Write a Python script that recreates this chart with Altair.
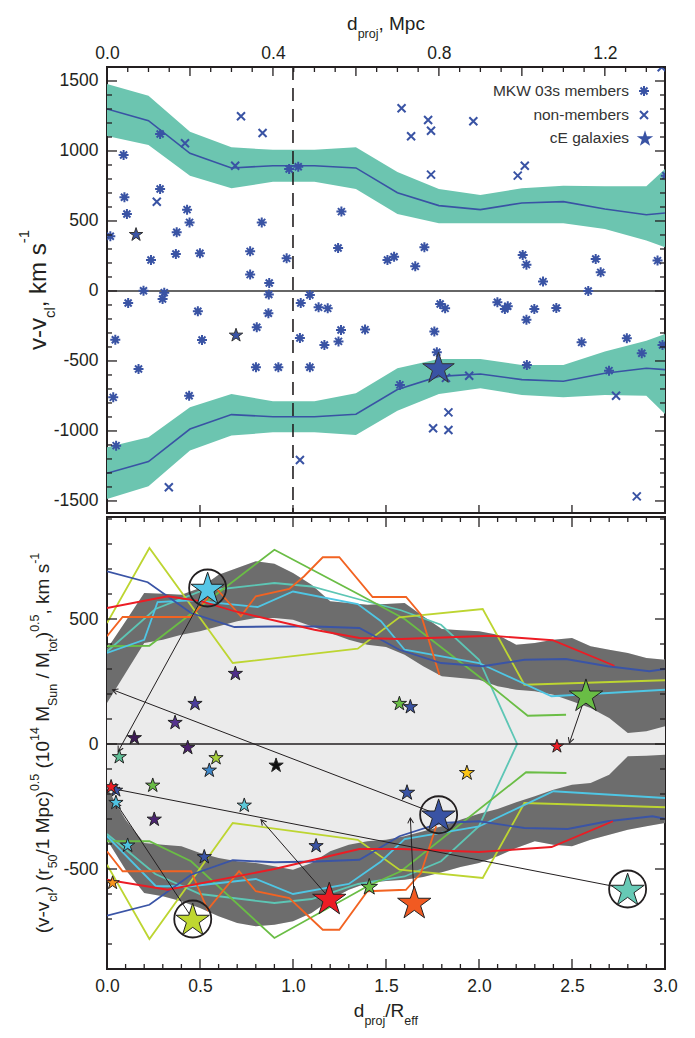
import math
import altair as alt
import pandas as pd

FONT = "Liberation Sans"
INK = "#231f20"
LABEL_SIZE = 17.5

W, H_TOP, H_BOT = 558, 446, 452
R_EFF_MPC = 0.4483          # d_proj/R_eff = 1 in Mpc (dashed line)
TOP_XDOM = [0, 1.345]
TOP_YDOM = [-1586, 1600]
BOT_XDOM = [0, 3.0]
BOT_YDOM = [-900, 908]

# ---------------- top panel data ----------------
band_mpc = [0.0, 0.1, 0.2, 0.3, 0.4, 0.5, 0.6, 0.7, 0.8, 0.9, 1.0, 1.1, 1.2, 1.3, 1.345]
up_band_hi = [1479, 1395, 1138, 1026, 1009, 1009, 1026, 850, 729, 686, 733, 752, 748, 748, 871]
up_band_lo = [1107, 1043, 824, 733, 781, 781, 729, 550, 483, 483, 483, 483, 443, 360, 312]
up_band_mid = [1300, 1217, 983, 879, 895, 895, 879, 702, 610, 581, 629, 638, 586, 545, 557]
lo_band_hi = [-1117, -1045, -831, -736, -788, -788, -731, -552, -486, -486, -529, -529, -433, -355, -307]
lo_band_lo = [-1486, -1395, -1140, -1033, -1010, -1010, -1029, -855, -736, -695, -743, -760, -743, -748, -879]
lo_band_mid = [-1302, -1219, -986, -883, -898, -898, -881, -704, -610, -593, -633, -645, -588, -552, -562]

mem_mpc = [0.040, 0.128, 0.042, 0.128, 0.048, 0.193, 0.199, 0.373, 0.565, 0.008, 0.168, 0.106, 0.166,
           0.224, 0.345, 0.433, 0.557, 0.345, 0.391, 0.390, 0.439, 0.461, 0.088, 0.138, 0.134, 0.676,
           0.692, 0.489, 0.743, 0.765, 1.002, 1.011, 1.051, 1.178, 1.190, 1.160, 1.327, 1.347, 0.941,
           0.051, 0.389, 0.219, 0.467, 0.510, 0.532, 0.361, 0.564, 0.622, 0.465, 0.524, 0.558, 0.020,
           0.229, 0.076, 0.359, 0.413, 0.489, 0.015, 0.198, 0.022, 0.706, 0.803, 0.815, 0.959, 0.966,
           1.030, 1.083, 1.011, 0.789, 0.795, 1.144, 1.253, 1.289, 1.339, 1.012, 1.210]
mem_v = [971, 1121, 669, 729, 550, 581, 490, 490, 567, 391, 419, 221, 264,
         269, 283, 233, 307, 117, 57, -25, 871, 888, 2, -12, -57, 221,
         245, -29, 176, 312, 257, 188, 67, 229, 133, 0, 217, 824, -81,
         -86, -159, -145, -86, -117, -124, -259, -279, -276, -336, -386, -360, -348,
         -350, -557, -545, -545, -545, -760, -748, -1105, -671, -93, -124, -129, -109,
         -129, -121, -205, -290, -438, -367, -338, -445, -386, -529, -569]

non_mpc = [0.323, 0.375, 0.188, 0.309, 0.120, 0.710, 0.733, 0.774, 0.781, 0.883, 0.781, 0.990,
           1.007, 1.337, 0.149, 0.465, 0.817, 0.873, 0.823, 0.786, 0.823, 1.227, 1.277]
non_v = [1248, 1129, 1055, 895, 638, 1305, 1105, 1221, 1145, 1212, 831, 824,
         895, 1598, -1402, -1207, -621, -605, -867, -981, -993, -748, -1467]

ce_mpc = [0.070, 0.311, 0.799]
ce_v = [407, -312, -545]
ce_size = [200, 200, 1100]

legend_labels = ["MKW 03s members", "non-members", "cE galaxies"]

# ---------------- bottom panel data ----------------
grid_d = [0.0, 0.1, 0.2, 0.3, 0.4, 0.5, 0.6, 0.7, 0.8, 0.9, 1.0, 1.1, 1.2, 1.3, 1.4, 1.5,
          1.6, 1.7, 1.8, 1.9, 2.0, 2.1, 2.2, 2.3, 2.4, 2.5, 2.6, 2.7, 2.8, 2.9, 3.0]
dark_up_top = [380, 491, 604, 601, 597, 624, 677, 704, 731, 721, 684, 637, 571, 564, 557, 560,
               564, 511, 460, 455, 451, 437, 397, 404, 417, 424, 391, 377, 364, 344, 337]
dark_up_bot = [164, 284, 404, 417, 437, 451, 471, 491, 504, 504, 497, 471, 444, 417, 397, 388,
               357, 311, 271, 264, 257, 231, 217, 211, 197, 171, 144, 104, 44, 51, 71]
dark_lo_top = [-176, -303, -396, -403, -409, -436, -456, -469, -476, -489, -503, -476, -429, -403, -389, -383,
               -369, -349, -329, -303, -279, -260, -233, -209, -183, -163, -156, -123, -49, -47, -43]
dark_lo_bot = [-383, -503, -596, -609, -629, -656, -689, -716, -729, -723, -709, -676, -623, -583, -556, -548,
               -543, -532, -513, -492, -476, -449, -416, -389, -403, -409, -383, -363, -343, -329, -316]

# caustic profiles of individual groups (upper and lower branch)
blue_up_d = [0, 0.219, 0.452, 0.685, 0.9, 1.12, 1.357, 1.572, 1.796, 2.02, 2.244, 2.467, 2.692, 2.916, 3.0]
blue_up_v = [691, 647, 524, 468, 470, 470, 464, 377, 324, 311, 337, 340, 311, 291, 300]
blue_lo_d = [0, 0.228, 0.452, 0.676, 0.9, 1.12, 1.357, 1.572, 1.796, 2.0, 2.244, 2.477, 2.692, 2.933, 3.0]
blue_lo_v = [-687, -643, -523, -465, -473, -470, -463, -369, -316, -309, -336, -340, -309, -289, -299]
yg_up_d = [0, 0.228, 0.676, 1.348, 1.572, 2.02, 2.244, 3.0]
yg_up_v = [484, 784, 324, 381, 507, 540, 237, 255]
yg_lo_d = [0, 0.228, 0.676, 1.348, 1.572, 2.02, 2.244, 3.0]
yg_lo_v = [-483, -780, -316, -383, -503, -536, -236, -253]
green_up_d = [0, 0.228, 0.9, 1.35, 1.6, 2.0, 2.262, 2.468]
green_up_v = [391, 393, 777, 600, 500, 270, 113, 117]
green_lo_d = [0, 0.228, 0.452, 0.9, 1.4, 1.58, 2.253, 2.47]
green_lo_v = [-389, -389, -469, -776, -569, -509, -113, -116]
orange_up_d = [0, 0.084, 0.452, 0.586, 0.72, 0.8, 0.98, 1.06, 1.16, 1.249, 1.428, 1.608, 1.688, 1.787]
orange_up_v = [431, 508, 508, 624, 511, 591, 620, 671, 747, 747, 588, 588, 517, 277]
orange_lo_d = [0, 0.084, 0.452, 0.541, 0.71, 0.8, 0.98, 1.16, 1.249, 1.40, 1.607, 1.688, 1.77]
orange_lo_v = [-429, -509, -509, -663, -509, -589, -616, -743, -743, -589, -583, -516, -329]
red_up_d = [0, 0.326, 0.505, 0.685, 1.115, 1.357, 1.581, 2.064, 2.396, 2.728]
red_up_v = [544, 591, 571, 531, 457, 424, 420, 433, 415, 313]
red_lo_d = [0, 0.326, 0.9, 1.357, 1.581, 2.0, 2.39, 2.72]
red_lo_v = [-543, -583, -500, -420, -420, -432, -412, -309]
cyan_up_d = [0, 0.2, 0.272, 0.452, 0.81, 1.0, 1.348, 1.473, 1.6, 2.0, 2.39, 3.0]
cyan_up_v = [364, 417, 568, 575, 548, 610, 560, 491, 377, 324, 191, 217]
cyan_lo_d = [0, 0.263, 0.45, 0.8, 1.0, 1.3, 1.473, 1.6, 2.0, 2.4, 3.0]
cyan_lo_v = [-369, -569, -569, -540, -600, -560, -470, -380, -330, -189, -216]
teal_d = [0, 0.26, 0.5, 0.9, 1.1, 1.348, 1.58, 1.796, 2.0, 2.205, 2.0, 1.796, 1.6, 1.35, 1.1, 0.9, 0.5, 0.26, 0]
teal_v = [370, 540, 610, 644, 630, 580, 535, 477, 337, 0, -329, -469, -530, -560, -620, -636, -600, -520, -360]

C_BLUE, C_RED, C_ORANGE = "#3a54a6", "#ec1c24", "#f26322"
C_YG, C_GREEN, C_CYAN, C_TEAL = "#bdd531", "#6abd45", "#4fc6e4", "#5dc6b5"

star_d = [0.541, 0.69, 0.473, 0.366, 0.147, 0.066, 0.434, 0.586, 0.55, 0.909, 0.246, 0.048, 0.022,
          0.048, 0.738, 0.254, 0.111, 0.523, 1.124, 0.030, 0.461, 1.195, 1.41, 1.652, 1.783, 1.613,
          1.935, 2.419, 2.799, 1.572, 1.631, 2.575]
star_v = [624, 284, 164, 88, 27, -49, -12, -53, -103, -83, -163, -183, -169,
          -232, -243, -299, -403, -449, -405, -553, -700, -616, -569, -632, -283, -192,
          -113, -7, -580, 164, 151, 197]
star_col = ["#56c6e6", "#4f2e8a", "#4a3c9c", "#55338f", "#3c1a55", "#5ebf96", "#4b1f6e", "#a6cf3a",
            "#3d87c9", "#111111", "#69bd45", "#3953a4", "#ec1c24", "#4fc3e2", "#5cc8d8", "#4b2372",
            "#4fc3e0", "#3953a4", "#3953a4", "#f7941d", "#bfd730", "#ec1c24", "#69bd45", "#f15a22",
            "#3953a4", "#3953a4", "#fcc515", "#ec1c24", "#66c9b5", "#69bd45", "#3953a4", "#69bd45"]
star_size = [1225, 225, 225, 225, 225, 225, 225, 225, 225, 225, 225, 200, 225,
             225, 225, 225, 225, 225, 225, 200, 1225, 1225, 300, 1225, 1225, 260,
             250, 200, 1225, 225, 225, 1225]

ring_d = [0.541, 0.461, 1.783, 2.799]
ring_v = [624, -700, -283, -580]

arr_from_d = [0.541, 1.783, 2.799, 1.195, 1.652, 2.575, 0.461]
arr_from_v = [624, -283, -580, -616, -632, 197, -700]
arr_to_d = [0.06, 0.03, 0.04, 0.828, 1.631, 2.486, 0.048]
arr_to_v = [-30, 217, -180, -303, -296, 4, -236]

# ---------------- helpers ----------------
ONE = pd.DataFrame({"k": [0]})
AW = {' ': 278, '(': 333, ')': 333, ',': 278, '-': 333, '.': 278, '/': 278, 'M': 833, 'R': 722,
      'S': 667, 'c': 500, 'd': 556, 'e': 556, 'f': 278, 'j': 222, 'k': 500, 'l': 222, 'm': 833,
      'n': 556, 'o': 556, 'p': 556, 'r': 333, 's': 500, 't': 278, 'u': 556, 'v': 500}


def tw(s, size):
    return sum(AW.get(ch, 556) for ch in s) * size / 1000.0


def txt(s, x, y, size, angle=0, align="left", baseline="alphabetic", color=INK):
    return alt.Chart(ONE).mark_text(fontSize=size, angle=angle, align=align, baseline=baseline,
                                    font=FONT, color=color).encode(
        x=alt.value(x), y=alt.value(y), text=alt.value(s))


def rich(pieces, cx, cy, vertical, main=19, small=12.5, sub=8, sup=-10):
    sizes = [main if k == "n" else small for _, k in pieces]
    total = sum(tw(t, s) for (t, _), s in zip(pieces, sizes))
    out, off = [], 0.0
    for (t, k), s in zip(pieces, sizes):
        shift = 0 if k == "n" else (sub if k == "sub" else sup)
        lead = len(t) - len(t.lstrip(" "))
        o = off + tw(" " * lead, s)
        body = t.strip(" ")
        if vertical:
            out.append(txt(body, cx + shift, cy + total / 2 - o, s, angle=270))
        else:
            out.append(txt(body, cx - total / 2 + o, cy + shift, s))
        off += tw(t, s)
    return out


def star_path():
    pts = []
    for i in range(10):
        a = math.radians(-90 + 36 * i)
        r = 1.0 if i % 2 == 0 else 0.382
        pts.append((r * math.cos(a), r * math.sin(a) + 0.095))
    return "M" + "L".join(f"{x:.3f},{y:.3f}" for x, y in pts) + "Z"


STAR = star_path()
ASTER = "M-1,0L1,0M0,-1L0,1M-0.7,-0.7L0.7,0.7M-0.7,0.7L0.7,-0.7"
XMARK = "M-0.8,-0.8L0.8,0.8M-0.8,0.8L0.8,-0.8"
VHEAD = "M-0.55,1L0,0L0.55,1"

neg_label = "datum.value < 0 ? '-' + format(-datum.value, 'd') : format(datum.value, 'd')"

# scales and axes (the same axis object is given to every layer that shares a scale)
xs_t = alt.Scale(domain=TOP_XDOM, nice=False, zero=False)
ys_t = alt.Scale(domain=TOP_YDOM, nice=False, zero=False)
xs_b = alt.Scale(domain=BOT_XDOM, nice=False, zero=False)
ys_b = alt.Scale(domain=BOT_YDOM, nice=False, zero=False)
AX_TX = alt.Axis(orient="top", values=[0, 0.4, 0.8, 1.2], format=".1f", title=None,
                 labelPadding=5, labelFlush=False)
AX_TY = alt.Axis(orient="left", values=list(range(-1500, 1501, 500)), title=None,
                 labelExpr=neg_label, labelPadding=9, labelFlush=False)
AX_BX = alt.Axis(orient="bottom", values=[0, 0.5, 1, 1.5, 2, 2.5, 3], format=".1f", title=None,
                 labelPadding=8, labelFlush=False)
AX_BY = alt.Axis(orient="left", values=[-500, 0, 500], title=None, labelExpr=neg_label,
                 labelPadding=9, labelFlush=False)


def TX(f):
    return alt.X(f, scale=xs_t, axis=AX_TX)


def TY(f):
    return alt.Y(f, scale=ys_t, axis=AX_TY)


def BX(f):
    return alt.X(f, scale=xs_b, axis=AX_BX)


def BY(f):
    return alt.Y(f, scale=ys_b, axis=AX_BY)


def yticks(vals, Yenc, length, side):
    df = pd.DataFrame({"t": vals})
    x0, x1 = (0, length) if side == "left" else (W - length, W)
    return alt.Chart(df).mark_rule(color=INK, strokeWidth=1.3).encode(
        y=Yenc("t:Q"), x=alt.value(x0), x2=alt.value(x1))


def xticks(vals, Xenc, length, side, h):
    df = pd.DataFrame({"t": vals})
    y0, y1 = (0, length) if side == "top" else (h - length, h)
    return alt.Chart(df).mark_rule(color=INK, strokeWidth=1.3).encode(
        x=Xenc("t:Q"), y=alt.value(y0), y2=alt.value(y1))


# ---------------- top panel ----------------
band_df = pd.DataFrame({"mpc": band_mpc, "uh": up_band_hi, "ul": up_band_lo, "um": up_band_mid,
                        "lh": lo_band_hi, "ll": lo_band_lo, "lm": lo_band_mid})

top_band_u = alt.Chart(band_df).mark_area(color="#6cc5b0", clip=True).encode(
    x=TX("mpc:Q"), y=TY("uh:Q"), y2="ul:Q")
top_band_l = alt.Chart(band_df).mark_area(color="#6cc5b0", clip=True).encode(
    x=TX("mpc:Q"), y=TY("lh:Q"), y2="ll:Q")
top_mid_u = alt.Chart(band_df).mark_line(color="#3953a4", strokeWidth=1.6, clip=True).encode(
    x=TX("mpc:Q"), y=TY("um:Q"))
top_mid_l = alt.Chart(band_df).mark_line(color="#3953a4", strokeWidth=1.6, clip=True).encode(
    x=TX("mpc:Q"), y=TY("lm:Q"))

dash = alt.Chart(pd.DataFrame({"x": [R_EFF_MPC]})).mark_rule(
    color=INK, strokeWidth=1.6, strokeDash=[13, 8]).encode(x=TX("x:Q"))
zero_t = alt.Chart(pd.DataFrame({"y": [0]})).mark_rule(color="#333333", strokeWidth=1.6).encode(
    y=TY("y:Q"))

mem = alt.Chart(pd.DataFrame({"x": mem_mpc, "v": mem_v})).mark_point(
    shape=ASTER, filled=False, color="#3953a4", strokeWidth=2, size=100, opacity=1, clip=True).encode(
    x=TX("x:Q"), y=TY("v:Q"))
non = alt.Chart(pd.DataFrame({"x": non_mpc, "v": non_v})).mark_point(
    shape=XMARK, filled=False, color="#3953a4", strokeWidth=2, size=100, opacity=1, clip=True).encode(
    x=TX("x:Q"), y=TY("v:Q"))
ce = alt.Chart(pd.DataFrame({"x": ce_mpc, "v": ce_v, "s": ce_size})).mark_point(
    shape=STAR, filled=True, color="#3953a4", stroke="#333333", strokeWidth=1, opacity=1, clip=True).encode(
    x=TX("x:Q"), y=TY("v:Q"), size=alt.Size("s:Q", scale=None))

leg_y = [24, 48, 71]
legend_layers = []
for lab, yy in zip(legend_labels, leg_y):
    legend_layers.append(txt(lab, 522, yy, 15.5, align="right", baseline="middle", color="#333333"))
legend_layers.append(alt.Chart(ONE).mark_point(shape=ASTER, filled=False, color="#3953a4", strokeWidth=2,
                                               size=100, opacity=1).encode(x=alt.value(537), y=alt.value(leg_y[0])))
legend_layers.append(alt.Chart(ONE).mark_point(shape=XMARK, filled=False, color="#3953a4", strokeWidth=2,
                                               size=100, opacity=1).encode(x=alt.value(537), y=alt.value(leg_y[1])))
legend_layers.append(alt.Chart(ONE).mark_point(shape=STAR, filled=True, color="#3953a4", strokeWidth=0,
                                               size=300, opacity=1).encode(x=alt.value(538), y=alt.value(leg_y[2])))

t_minor_y = [v for v in range(-1500, 1601, 100) if v % 500]
t_major_y = list(range(-1500, 1501, 500))
t_minor_x = [round(0.05 * i, 2) for i in range(1, 27) if i % 4]
t_major_x = [round(0.2 * i, 2) for i in range(1, 7)]
t_bot_x = [0.5 * k * R_EFF_MPC for k in range(1, 6)]
top_ticks = [yticks(t_minor_y, TY, 5, "left"), yticks(t_major_y, TY, 10, "left"),
             yticks(t_minor_y, TY, 5, "right"), yticks(t_major_y, TY, 10, "right"),
             xticks(t_minor_x, TX, 5, "top", H_TOP), xticks(t_major_x, TX, 9, "top", H_TOP),
             xticks(t_bot_x, TX, 8, "bottom", H_TOP)]

top_titles = (rich([("d", "n"), ("proj", "sub"), (", Mpc", "n")], W / 2, -37, False) +
              rich([("v-v", "n"), ("cl", "sub"), (", km s", "n"), ("-1", "sup")], -61, H_TOP / 2, True,
                   main=24, small=15, sub=9, sup=-17))

top = alt.layer(top_band_u, top_band_l, top_mid_u, top_mid_l, dash, zero_t, mem, non, ce,
                *legend_layers, *top_ticks, *top_titles).properties(width=W, height=H_TOP)

# ---------------- bottom panel ----------------
dark_df = pd.DataFrame({"d": grid_d, "ut": dark_up_top, "ub": dark_up_bot, "lt": dark_lo_top, "lb": dark_lo_bot})
cloud = alt.Chart(dark_df).mark_area(color="#ebebeb", clip=True).encode(
    x=BX("d:Q"), y=BY("ut:Q"), y2="lb:Q")
dark_u = alt.Chart(dark_df).mark_area(color="#6d6d6d", clip=True).encode(
    x=BX("d:Q"), y=BY("ut:Q"), y2="ub:Q")
dark_l = alt.Chart(dark_df).mark_area(color="#6d6d6d", clip=True).encode(
    x=BX("d:Q"), y=BY("lt:Q"), y2="lb:Q")

lines = [("teal", C_TEAL, teal_d, teal_v),
         ("green_u", C_GREEN, green_up_d, green_up_v), ("green_l", C_GREEN, green_lo_d, green_lo_v),
         ("yg_u", C_YG, yg_up_d, yg_up_v), ("yg_l", C_YG, yg_lo_d, yg_lo_v),
         ("cyan_u", C_CYAN, cyan_up_d, cyan_up_v), ("cyan_l", C_CYAN, cyan_lo_d, cyan_lo_v),
         ("orange_u", C_ORANGE, orange_up_d, orange_up_v), ("orange_l", C_ORANGE, orange_lo_d, orange_lo_v),
         ("blue_u", C_BLUE, blue_up_d, blue_up_v), ("blue_l", C_BLUE, blue_lo_d, blue_lo_v),
         ("red_u", C_RED, red_up_d, red_up_v), ("red_l", C_RED, red_lo_d, red_lo_v)]
rows = []
for name, col, ds, vs in lines:
    for i, (dd, vv) in enumerate(zip(ds, vs)):
        rows.append({"seg": name, "col": col, "i": i, "d": dd, "v": vv})
line_df = pd.DataFrame(rows)
prof = alt.Chart(line_df).mark_line(strokeWidth=1.8, clip=True).encode(
    x=BX("d:Q"), y=BY("v:Q"),
    color=alt.Color("col:N", scale=None), detail="seg:N", order=alt.Order("i:Q"))

zero_b = alt.Chart(pd.DataFrame({"y": [0]})).mark_rule(color=INK, strokeWidth=1.6).encode(y=BY("y:Q"))

px_d = W / (BOT_XDOM[1] - BOT_XDOM[0])
px_v = H_BOT / (BOT_YDOM[1] - BOT_YDOM[0])
ang = []
for fd, fv, td, tv in zip(arr_from_d, arr_from_v, arr_to_d, arr_to_v):
    dx = (td - fd) * px_d
    dy = -(tv - fv) * px_v
    ang.append((math.degrees(math.atan2(dx, -dy)) + 360) % 360)
arr_df = pd.DataFrame({"fd": arr_from_d, "fv": arr_from_v, "td": arr_to_d, "tv": arr_to_v, "a": ang})
shafts = alt.Chart(arr_df).mark_rule(color=INK, strokeWidth=1).encode(
    x=BX("fd:Q"), y=BY("fv:Q"), x2="td:Q", y2="tv:Q")
heads = alt.Chart(arr_df).mark_point(shape=VHEAD, filled=False, color=INK, strokeWidth=1, size=110,
                                     opacity=1).encode(
    x=BX("td:Q"), y=BY("tv:Q"), angle=alt.Angle("a:Q", scale=None))

stars = alt.Chart(pd.DataFrame({"d": star_d, "v": star_v, "c": star_col, "s": star_size})).mark_point(
    shape=STAR, filled=True, stroke="#222222", strokeWidth=1, opacity=1, clip=True).encode(
    x=BX("d:Q"), y=BY("v:Q"), fill=alt.Fill("c:N", scale=None), size=alt.Size("s:Q", scale=None))
rings = alt.Chart(pd.DataFrame({"d": ring_d, "v": ring_v})).mark_point(
    shape="circle", filled=False, color=INK, strokeWidth=1.8, size=1370, opacity=1).encode(
    x=BX("d:Q"), y=BY("v:Q"))

b_minor_y = [v for v in range(-900, 901, 100) if v % 500]
b_major_y = [-500, 0, 500]
b_minor_x = [round(0.1 * i, 1) for i in range(1, 30) if i % 5]
b_major_x = [0.5, 1.0, 1.5, 2.0, 2.5]
bot_ticks = [yticks(b_minor_y, BY, 5, "left"), yticks(b_major_y, BY, 10, "left"),
             yticks(b_minor_y, BY, 5, "right"), yticks(b_major_y, BY, 10, "right"),
             xticks(b_minor_x, BX, 5, "bottom", H_BOT), xticks(b_major_x, BX, 10, "bottom", H_BOT),
             xticks(b_minor_x, BX, 5, "top", H_BOT), xticks(b_major_x, BX, 10, "top", H_BOT)]

bot_titles = (rich([("d", "n"), ("proj", "sub"), ("/R", "n"), ("eff", "sub")], W / 2, 500, False) +
              rich([("(v-v", "n"), ("cl", "sub"), (") (r", "n"), ("50", "sub"), ("/1 Mpc)", "n"),
                    ("0.5", "sup"), (" (10", "n"), ("14", "sup"), (" M", "n"), ("Sun", "sub"),
                    (" / M", "n"), ("tot", "sub"), (")", "n"), ("0.5", "sup"), (", km s", "n"),
                    ("-1", "sup")], -58, H_BOT / 2, True))

bottom = alt.layer(cloud, dark_u, dark_l, prof, zero_b, shafts, heads, stars, rings,
                   *bot_ticks, *bot_titles).properties(width=W, height=H_BOT)

chart = alt.vconcat(top, bottom, spacing=0).properties(
    padding={"left": 16, "top": 14, "right": 0, "bottom": 0}
).configure(font=FONT).configure_view(stroke=INK, strokeWidth=2).configure_axis(
    labelFont=FONT, labelFontSize=LABEL_SIZE, labelColor=INK, domain=False, ticks=False, grid=False)

chart.save("out.html", embed_options={"renderer": "svg", "actions": False})
